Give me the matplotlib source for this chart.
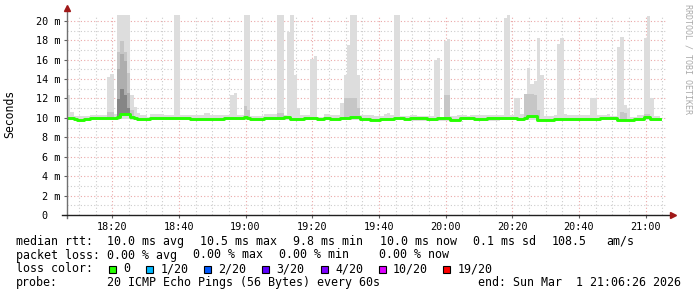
# smokeping-style latency graph, 3 hours of 1-minute steps ending 21:06:26

import numpy as np
import matplotlib.pyplot as plt
from matplotlib.patches import Rectangle

# minutes after 18:00 of the first step
start_minute = 6 + 26 / 60

# max rtt per minute (ms)
rtt_max = [
    12.4, 10.65, 10.2, 10.2, 10.15, 10.15, 10.15, 10.3, 10.3, 10.3,
    10.25, 10.25, 14.2, 14.5, 10.4, 20.6, 20.6, 20.6, 20.6, 12.4,
    11.1, 10.5, 10.25, 10.25, 10.1, 10.4, 10.4, 10.4, 10.4, 10.25,
    10.25, 10.25, 20.6, 20.6, 10.3, 10.3, 10.3, 10.3, 10.25, 10.25,
    10.25, 10.5, 10.55, 10.25, 10.25, 10.25, 10.25, 10.25, 10.25, 12.4,
    12.6, 10.3, 10.3, 20.6, 20.6, 10.2, 10.2, 10.2, 10.2, 10.4,
    10.4, 10.4, 10.4, 20.6, 20.6, 10.3, 18.9, 20.6, 14.4, 11.0,
    10.3, 10.3, 10.3, 16.05, 16.4, 10.1, 10.1, 10.45, 10.45, 10.25,
    10.25, 10.25, 11.5, 14.4, 17.5, 20.6, 20.6, 14.4, 10.3, 10.3,
    10.3, 10.3, 10.2, 10.2, 10.2, 10.4, 10.5, 10.25, 20.6, 20.6,
    10.2, 10.15, 10.15, 10.35, 10.35, 10.2, 10.2, 10.2, 10.2, 10.2,
    16.0, 16.2, 10.1, 17.9, 18.1, 10.2, 10.2, 10.3, 10.3, 10.3,
    10.2, 10.25, 10.25, 10.25, 10.25, 10.25, 10.25, 10.25, 10.25, 10.25,
    10.25, 20.3, 20.6, 10.3, 12.0, 12.0, 10.4, 12.3, 15.1, 13.5,
    13.85, 18.2, 14.4, 10.15, 10.15, 10.15, 10.3, 17.6, 18.2, 10.4,
    10.25, 10.25, 10.25, 10.25, 10.35, 10.25, 10.25, 12.0, 12.0, 10.3,
    10.3, 10.3, 10.4, 10.15, 10.15, 17.3, 18.3, 11.3, 10.9, 10.1,
    10.1, 10.3, 10.3, 18.2, 20.5, 12.0, 10.15, 10.15,
]

# median rtt per minute (ms)
rtt_median = [
    10.03, 10.03, 9.9, 9.8, 9.8, 9.87, 9.87, 9.97, 9.97, 10.0,
    10.0, 10.0, 10.0, 10.03, 10.03, 10.1, 10.4, 10.4, 10.4, 10.1,
    10.0, 9.9, 9.9, 9.9, 9.85, 9.97, 9.97, 10.03, 10.03, 9.97,
    9.97, 9.97, 9.97, 10.0, 10.0, 10.0, 10.0, 9.9, 9.9, 9.9,
    9.87, 9.87, 9.87, 9.87, 9.87, 9.9, 9.9, 9.97, 9.97, 9.97,
    9.97, 10.03, 10.03, 10.1, 10.03, 9.9, 9.9, 9.9, 9.9, 9.97,
    9.97, 9.97, 10.03, 10.03, 10.03, 10.1, 10.1, 9.9, 9.9, 9.9,
    9.9, 10.0, 10.0, 9.97, 9.97, 9.85, 9.85, 10.0, 10.0, 9.9,
    9.9, 9.9, 10.03, 10.03, 10.03, 10.1, 10.1, 10.1, 9.9, 9.9,
    9.9, 9.8, 9.8, 9.8, 9.93, 9.93, 9.93, 9.93, 9.97, 9.97,
    9.97, 9.93, 9.93, 9.95, 9.95, 9.95, 9.95, 9.95, 9.93, 9.93,
    9.93, 9.95, 9.95, 9.95, 9.95, 9.8, 9.8, 9.8, 10.0, 10.0,
    10.0, 10.0, 9.93, 9.93, 9.93, 9.93, 9.95, 9.95, 9.95, 9.95,
    10.0, 10.0, 10.03, 10.03, 10.03, 9.9, 9.9, 10.0, 10.15, 10.15,
    10.15, 9.82, 9.82, 9.82, 9.82, 9.82, 9.93, 9.93, 9.93, 9.93,
    9.93, 9.93, 9.93, 9.93, 9.93, 9.93, 9.93, 9.9, 9.9, 9.9,
    9.97, 9.97, 9.97, 9.97, 9.97, 9.82, 9.82, 9.82, 9.82, 9.82,
    9.93, 9.93, 9.93, 10.1, 10.1, 9.88, 9.88, 9.88,
]

# min rtt per minute (ms)
rtt_min = [
    9.75, 9.75, 9.72, 9.68, 9.68, 9.72, 9.72, 9.75, 9.75, 9.75,
    9.75, 9.75, 9.75, 9.75, 9.75, 9.8, 9.9, 9.9, 9.9, 9.8,
    9.75, 9.72, 9.72, 9.72, 9.7, 9.75, 9.75, 9.75, 9.75, 9.75,
    9.75, 9.75, 9.75, 9.75, 9.75, 9.75, 9.75, 9.72, 9.72, 9.72,
    9.72, 9.72, 9.72, 9.72, 9.72, 9.72, 9.72, 9.75, 9.75, 9.75,
    9.75, 9.75, 9.75, 9.8, 9.75, 9.72, 9.72, 9.72, 9.72, 9.75,
    9.75, 9.75, 9.75, 9.75, 9.75, 9.8, 9.8, 9.72, 9.72, 9.72,
    9.72, 9.75, 9.75, 9.75, 9.75, 9.7, 9.7, 9.75, 9.75, 9.72,
    9.72, 9.72, 9.75, 9.75, 9.75, 9.8, 9.8, 9.8, 9.72, 9.72,
    9.72, 9.68, 9.68, 9.68, 9.72, 9.72, 9.72, 9.72, 9.75, 9.75,
    9.75, 9.72, 9.72, 9.72, 9.72, 9.72, 9.72, 9.72, 9.72, 9.72,
    9.72, 9.72, 9.72, 9.72, 9.72, 9.68, 9.68, 9.68, 9.75, 9.75,
    9.75, 9.75, 9.72, 9.72, 9.72, 9.72, 9.72, 9.72, 9.72, 9.72,
    9.75, 9.75, 9.75, 9.75, 9.75, 9.72, 9.72, 9.75, 9.8, 9.8,
    9.8, 9.7, 9.7, 9.7, 9.7, 9.7, 9.72, 9.72, 9.72, 9.72,
    9.72, 9.72, 9.72, 9.72, 9.72, 9.72, 9.72, 9.72, 9.72, 9.72,
    9.75, 9.75, 9.75, 9.75, 9.75, 9.7, 9.7, 9.7, 9.7, 9.7,
    9.72, 9.72, 9.72, 9.8, 9.8, 9.72, 9.72, 9.72,
]

# darker smoke where the pings spread out
mid_minutes = [12, 13, 15, 16, 17, 18, 19, 53, 54, 63, 64, 83, 84, 85, 86, 87,
               113, 114, 137, 138, 139, 140, 141, 166, 167, 173, 174]
mid_top = [10.6, 10.6, 16.8, 17.9, 16.8, 14.6, 10.8, 11.2, 10.8, 10.5, 10.5,
           12.0, 12.0, 12.0, 12.0, 11.0, 12.4, 12.4, 12.5, 12.5, 12.5, 12.4,
           10.8, 10.6, 10.5, 10.4, 10.4]
dark_minutes = [15, 16, 17, 18]
dark_top = [15.0, 16.6, 15.9, 12.6]
darkest_minutes = [15, 16, 17, 18]
darkest_top = [11.9, 13.0, 12.4, 11.0]

time_ticks = [20, 40, 60, 80, 100, 120, 140, 160, 180]
time_labels = ["18:20", "18:40", "19:00", "19:20", "19:40",
               "20:00", "20:20", "20:40", "21:00"]
rtt_ticks = [0, 2, 4, 6, 8, 10, 12, 14, 16, 18, 20]
rtt_labels = ["0  ", "2 m", "4 m", "6 m", "8 m", "10 m", "12 m",
              "14 m", "16 m", "18 m", "20 m"]

loss_labels = ["0", "1/20", "2/20", "3/20", "4/20", "10/20", "19/20"]
loss_colors = ["#26ff00", "#00b8ff", "#0059ff", "#5e00ff",
               "#7e00ff", "#dd00ff", "#ff0000"]

rtt_stats = ["10.0 ms avg", "10.5 ms max", "9.8 ms min", "10.0 ms now",
             "0.1 ms sd", "108.5", "am/s"]
loss_stats = ["0.00 % avg", "0.00 % max", "0.00 % min", "0.00 % now"]
probe_text = "20 ICMP Echo Pings (56 Bytes) every 60s"
end_text = "end: Sun Mar  1 21:06:26 2026"

MONO = "DejaVu Sans Mono"
W, H = 697, 297


def px(x, y):
    return x / W, 1 - y / H


def smoke(ax, minutes, top, bottom_src, color, z):
    xs = [start_minute + m for m in minutes]
    bottoms = [bottom_src[m] for m in minutes]
    heights = [t - b for t, b in zip(top, bottoms)]
    ax.bar(xs, heights, bottom=bottoms, width=1.0, align="edge",
           color=color, linewidth=0, zorder=z)


def main():
    fig = plt.figure(figsize=(W / 100, H / 100), dpi=100)
    fig.patch.set_facecolor("white")
    ax = fig.add_axes([67 / W, 82 / H, 600 / W, 200 / H])

    n = len(rtt_max)
    edges = start_minute + np.arange(n + 1)
    ext = lambda v: list(v) + [v[-1]]

    ax.fill_between(edges, ext(rtt_min), ext(rtt_max), step="post",
                    color="#dddddd", linewidth=0, zorder=2)
    smoke(ax, mid_minutes, mid_top, rtt_median, "#c6c6c6", 3)
    smoke(ax, dark_minutes, dark_top, rtt_median, "#aeaeae", 4)
    smoke(ax, darkest_minutes, darkest_top, rtt_median, "#858585", 5)
    ax.step(edges, ext(rtt_median), where="post", color=loss_colors[0],
            lw=2.1, zorder=6)

    ax.set_xlim(start_minute, start_minute + 180)
    ax.set_ylim(0, 20.6)

    ax.set_xticks(time_ticks)
    ax.set_xticklabels(time_labels, family=MONO, fontsize=7.3)
    ax.set_xticks(np.arange(10, 190, 5), minor=True)
    ax.set_yticks(rtt_ticks)
    ax.set_yticklabels(rtt_labels, family=MONO, fontsize=7.3)
    ax.set_yticks(np.arange(1, 21, 2), minor=True)
    ax.tick_params(axis="both", which="major", length=2, width=0.8,
                   color="#606060", pad=3)
    ax.tick_params(axis="both", which="minor", length=0)

    ax.set_axisbelow(True)
    ax.grid(which="major", color="#eaa8a8", ls=(0, (1, 2)), lw=0.8)
    ax.grid(which="minor", color="#cccccc", ls=(0, (1, 2)), lw=0.8)
    for s in ax.spines.values():
        s.set_visible(False)

    # axes with arrow heads, running a little past the plot area
    ax.plot([0, 0], [-0.015, 1.03], transform=ax.transAxes, color="#707070",
            lw=1, clip_on=False, zorder=7)
    ax.plot([-0.008, 1.006], [0, 0], transform=ax.transAxes, color="#202020",
            lw=1, clip_on=False, zorder=7)
    ax.plot([0], [1.035], marker="^", ms=4, color="#a01818",
            transform=ax.transAxes, clip_on=False, zorder=8)
    ax.plot([1.01], [0], marker=">", ms=4, color="#a01818",
            transform=ax.transAxes, clip_on=False, zorder=8)

    fig.text(*px(10, 114), "Seconds", rotation=90, family=MONO, fontsize=8.3,
             ha="center", va="center")
    fig.text(*px(688, 59), "RRDTOOL / TOBI OETIKER", rotation=270,
             family=MONO, fontsize=6, color="#aaaaaa", ha="center", va="center")

    # legend block
    fs = 8.4
    y1, y2, y3, y4 = 241.5, 255, 269, 282.7
    fig.text(*px(16, y1), "median rtt:", family=MONO, fontsize=fs, va="center")
    for x, s in zip([107.3, 200, 293.3, 380, 472.7, 551.7, 606.7], rtt_stats):
        fig.text(*px(x, y1), s, family=MONO, fontsize=fs, va="center")

    fig.text(*px(16, y2), "packet loss:", family=MONO, fontsize=fs, va="center")
    for x, s in zip([107.3, 193.3, 279.3, 379.3], loss_stats):
        fig.text(*px(x, y2), s, family=MONO, fontsize=fs, va="center")

    fig.text(*px(16, y3), "loss color:", family=MONO, fontsize=fs, va="center")
    box_x = [109, 146, 203.5, 262, 321, 378.5, 443]
    for bx, lab, col in zip(box_x, loss_labels, loss_colors):
        bx0, by0 = px(bx, 273)
        fig.patches.append(Rectangle((bx0, by0), 7 / W, 7.5 / H,
                                     transform=fig.transFigure, facecolor=col,
                                     edgecolor="black", linewidth=0.8))
        fig.text(*px(bx + 14.3, y3), lab, family=MONO, fontsize=fs, va="center")

    fig.text(*px(16, y4), "probe:", family=MONO, fontsize=fs, va="center")
    fig.text(*px(107.3, y4), probe_text, family=MONO, fontsize=fs, va="center")
    fig.text(*px(478.3, y4), end_text, family=MONO, fontsize=fs, va="center")

    fig.savefig("out.png", dpi=100, facecolor="white")


if __name__ == "__main__":
    main()
